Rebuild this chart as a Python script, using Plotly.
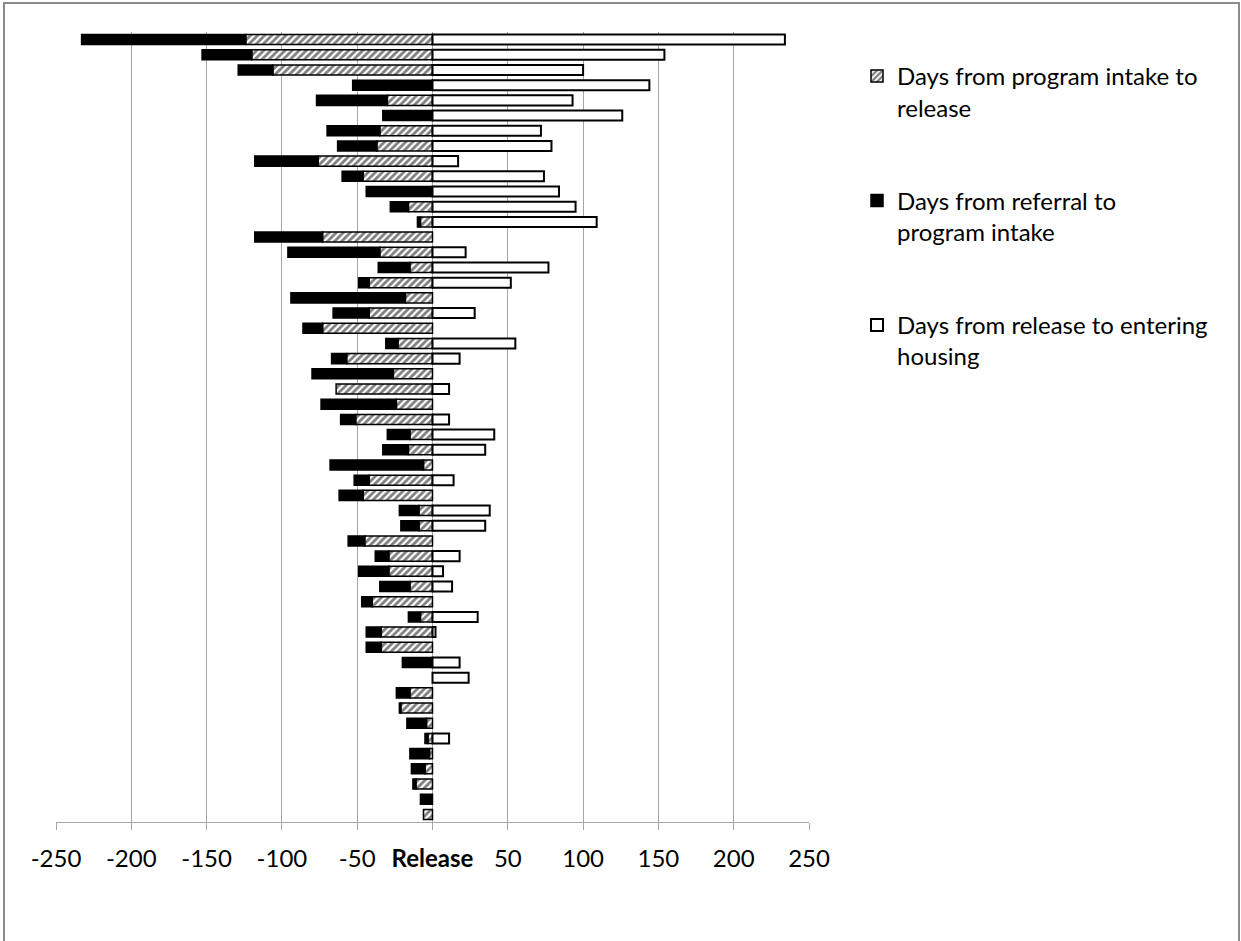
import plotly.graph_objects as go

# Row order: top of chart first
cases = list(range(1, 53))

# Days from program intake to release (plotted to the left of Release)
intake_to_release = [124, 120, 106, 0, 30, 0, 35, 37, 76, 46, 0, 16, 8,
                     73, 35, 15, 42, 18, 42, 73, 23, 57, 26, 64, 24, 51,
                     15, 16, 6, 42, 46, 9, 9, 45, 29, 29, 15, 40, 8,
                     34, 34, 0, 0, 15, 21, 4, 3, 2, 5, 11, 0, 6]

# Days from referral to program intake (plotted beyond the hatched bars)
referral_to_intake = [109, 33, 23, 53, 47, 33, 35, 26, 42, 14, 44, 12, 2,
                      45, 61, 21, 7, 76, 24, 13, 8, 10, 54, 0, 50, 10,
                      15, 17, 62, 10, 16, 13, 12, 11, 9, 20, 20, 7, 8,
                      10, 10, 20, 0, 9, 1, 13, 2, 13, 9, 2, 8, 0]

# Days from release to entering housing (plotted to the right of Release)
release_to_housing = [234, 154, 100, 144, 93, 126, 72, 79, 17, 74, 84, 95, 109,
                      0, 22, 77, 52, 0, 28, 0, 55, 18, 0, 11, 0, 11,
                      41, 35, 0, 14, 0, 38, 35, 0, 18, 7, 13, 0, 30,
                      2, 0, 18, 24, 0, 0, 0, 11, 0, 0, 0, 0, 0]

tick_vals = [-250, -200, -150, -100, -50, 0, 50, 100, 150, 200, 250]
tick_text = ["-250", "-200", "-150", "-100", "-50", "<b>Release</b>",
             "50", "100", "150", "200", "250"]

FONT = "Lato"
GRID = "#a6a6a6"


def neg(vals):
    return [(-v if v else None) for v in vals]


def pos(vals):
    return [(v if v else None) for v in vals]


fig = go.Figure()
fig.add_trace(go.Bar(
    y=cases, x=neg(intake_to_release), orientation="h",
    name="Days from program intake to<br>release", legendgroup="a",
    marker=dict(color="white", line=dict(color="black", width=1.5),
                pattern=dict(shape="/", fgcolor="black", bgcolor="white",
                             size=5, solidity=0.55)),
))
fig.add_trace(go.Bar(
    y=cases, x=neg(referral_to_intake), orientation="h",
    name="Days from referral to<br>program intake", legendgroup="b",
    marker=dict(color="black", line=dict(color="black", width=1.5)),
))
fig.add_trace(go.Bar(
    y=cases, x=pos(release_to_housing), orientation="h",
    name="Days from release to entering<br>housing", legendgroup="c",
    marker=dict(color="white", line=dict(color="black", width=2)),
))

W, H = 1241, 941
ml, mr, mt, mb = 56, 432, 32, 119
pw, ph = W - ml - mr, H - mt - mb


def px_x(p):
    return (p - ml) / pw


def px_y(p):
    return 1 - (p - mt) / ph


fig.update_layout(
    width=W, height=H,
    margin=dict(l=ml, r=mr, t=mt, b=mb, pad=0),
    barmode="relative", bargap=0.34,
    plot_bgcolor="white", paper_bgcolor="white",
    font=dict(family=FONT, size=24, color="black"),
    showlegend=True,
    legend=dict(x=px_x(857), xanchor="left", y=px_y(54), yanchor="top",
                tracegroupgap=59, valign="top",
                font=dict(family=FONT, size=24, color="black"),
                bgcolor="rgba(0,0,0,0)"),
    shapes=[dict(type="rect", xref="paper", yref="paper",
                 x0=px_x(4), x1=px_x(1239), y0=px_y(960), y1=px_y(3),
                 line=dict(color="#8c8c8c", width=2), fillcolor="rgba(0,0,0,0)",
                 layer="below")],
)
fig.update_xaxes(
    range=[-250, 250], tickvals=tick_vals, ticktext=tick_text,
    showgrid=True, gridcolor=GRID, gridwidth=1,
    zeroline=True, zerolinecolor=GRID, zerolinewidth=1,
    showline=True, linecolor=GRID, linewidth=1,
    ticks="outside", ticklen=7, tickcolor=GRID, tickwidth=1,
    ticklabelstandoff=8,
    tickfont=dict(family=FONT, size=24, color="black"),
)
fig.update_yaxes(
    type="category", autorange="reversed", categoryorder="array",
    categoryarray=cases, showticklabels=False, showgrid=False,
    zeroline=False, showline=False, ticks="",
)

fig.write_html(
    "out.html",
    config={"displayModeBar": False},
    post_script="document.body.style.margin='0';document.body.style.overflow='hidden';",
)
